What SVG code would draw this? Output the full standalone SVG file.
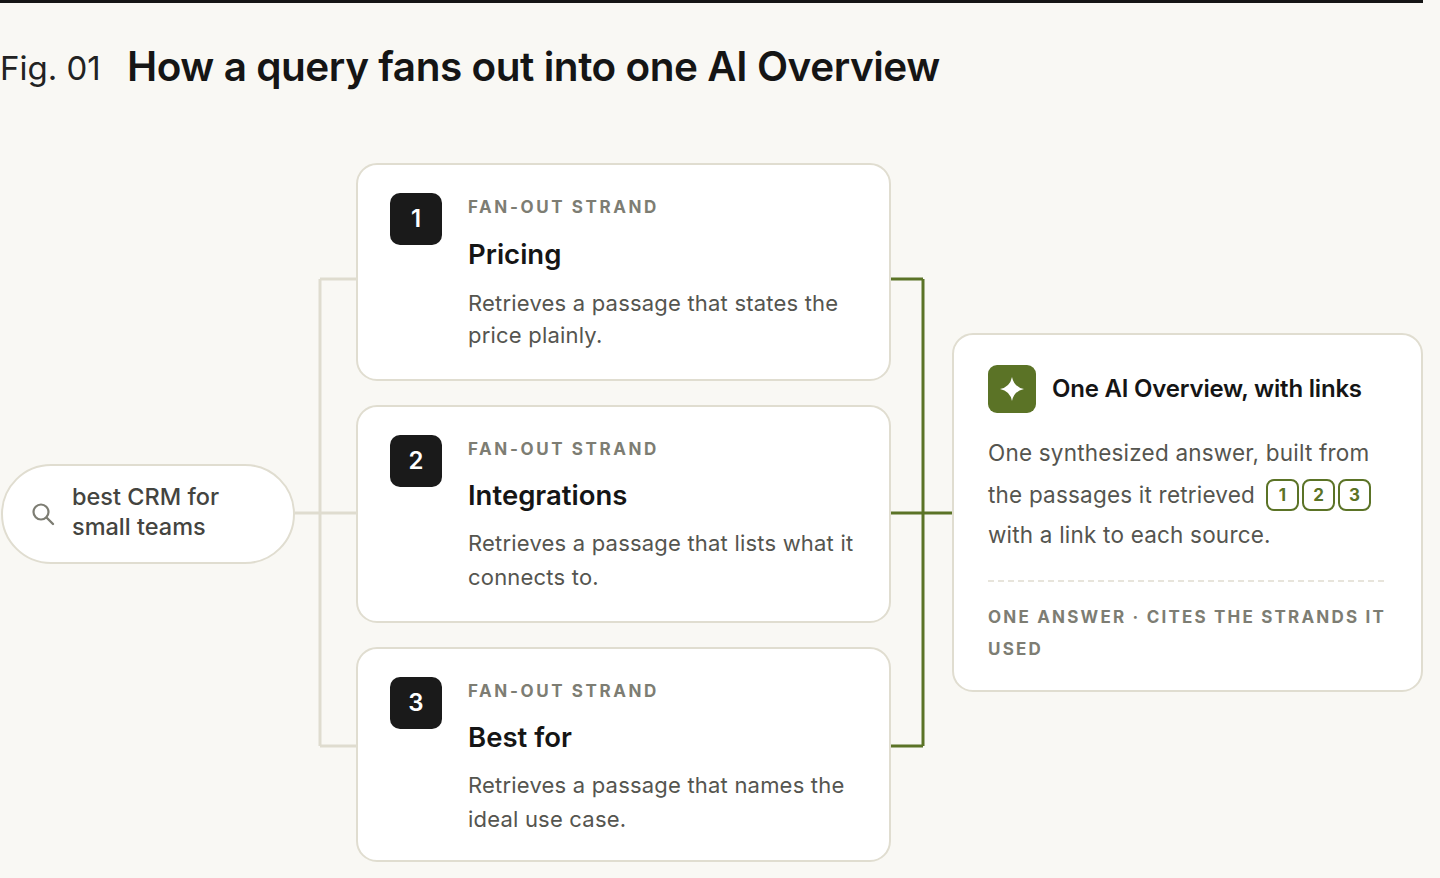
<svg xmlns="http://www.w3.org/2000/svg" width="1440" height="878" viewBox="0 0 1440 878">
<style>
text{font-family:Inter,"Liberation Sans",sans-serif}
.card{fill:#fff;stroke:#e0ddd0;stroke-width:2}
.badge{fill:#1a1a1a}
.bn{fill:#fff;font-size:24px;font-weight:600;text-anchor:middle}
.kick{fill:#7d7d73;font-size:17px;font-weight:700;letter-spacing:2.6px}
.ttl{fill:#151515;font-size:27.5px;font-weight:600}
.body{fill:#55554f;font-size:22px;letter-spacing:0.2px}
.cite{fill:none;stroke:#5b7326;stroke-width:2}
.cn{fill:#5b7326;font-size:17px;font-weight:700;text-anchor:middle}
</style>
<rect width="1440" height="878" fill="#f9f8f4"/>
<line x1="0" y1="1.5" x2="1423" y2="1.5" stroke="#151515" stroke-width="3"/>
<text x="0" y="80" font-size="33" fill="#222">Fig. 01</text>
<text x="127" y="81" font-size="40.5" font-weight="600" fill="#151515" letter-spacing="-0.45">How a query fans out into one AI Overview</text>
<g id="connectors" fill="none">
<path d="M295 513H357M320 279V746M320 279H357M320 746H357" stroke="#dfdccf" stroke-width="3"/>
<path d="M890 279H923M890 513H953M890 746H923M923 279V746" stroke="#5b7326" stroke-width="3"/>
</g>
<g id="query">
<rect x="2" y="465" width="292" height="98" rx="49" class="card"/>
<circle cx="41" cy="512" r="7.5" fill="none" stroke="#7d7d73" stroke-width="2.2"/>
<line x1="46.5" y1="517.5" x2="53" y2="524" stroke="#7d7d73" stroke-width="2.4" stroke-linecap="round"/>
<text x="72" y="505" font-size="23.5" font-weight="500" fill="#44443f">best CRM for</text>
<text x="72" y="535" font-size="23.5" font-weight="500" fill="#44443f">small teams</text>
</g>
<g id="strand1">
<rect x="357" y="164" width="533" height="216" rx="20" class="card"/>
<rect x="390" y="193" width="52" height="52" rx="10" class="badge"/><text x="416" y="227" class="bn">1</text>
<text x="468" y="213" class="kick">FAN-OUT STRAND</text>
<text x="468" y="264" class="ttl">Pricing</text>
<text x="468" y="311" class="body">Retrieves a passage that states the</text>
<text x="468" y="343" class="body">price plainly.</text>
</g>
<g id="strand2">
<rect x="357" y="406" width="533" height="216" rx="20" class="card"/>
<rect x="390" y="435" width="52" height="52" rx="10" class="badge"/><text x="416" y="469" class="bn">2</text>
<text x="468" y="455" class="kick">FAN-OUT STRAND</text>
<text x="468" y="505" class="ttl">Integrations</text>
<text x="468" y="551" class="body">Retrieves a passage that lists what it</text>
<text x="468" y="585" class="body">connects to.</text>
</g>
<g id="strand3">
<rect x="357" y="648" width="533" height="213" rx="20" class="card"/>
<rect x="390" y="677" width="52" height="52" rx="10" class="badge"/><text x="416" y="711" class="bn">3</text>
<text x="468" y="697" class="kick">FAN-OUT STRAND</text>
<text x="468" y="747" class="ttl">Best for</text>
<text x="468" y="793" class="body">Retrieves a passage that names the</text>
<text x="468" y="827" class="body">ideal use case.</text>
</g>
<g id="overview">
<rect x="953" y="334" width="469" height="357" rx="20" class="card"/>
<rect x="988" y="365" width="48" height="48" rx="9" fill="#5b7326"/>
<path d="M1012 377Q1014 387 1024 389Q1014 391 1012 401Q1010 391 1000 389Q1010 387 1012 377Z" fill="#fff"/>
<text x="1052" y="397" font-size="24" font-weight="600" fill="#151515" letter-spacing="-0.2">One AI Overview, with links</text>
<text x="988" y="461" class="body" style="font-size:22.5px">One synthesized answer, built from</text>
<text x="988" y="503" class="body" style="font-size:22.5px">the passages it retrieved</text>
<rect x="1267" y="480" width="31" height="30" rx="7" class="cite"/><text x="1282.5" y="501" class="cn">1</text>
<rect x="1303" y="480" width="31" height="30" rx="7" class="cite"/><text x="1318.5" y="501" class="cn">2</text>
<rect x="1339" y="480" width="31" height="30" rx="7" class="cite"/><text x="1354.5" y="501" class="cn">3</text>
<text x="988" y="543" class="body" style="font-size:22.5px">with a link to each source.</text>
<line x1="988" y1="581" x2="1388" y2="581" stroke="#dfdccf" stroke-width="1.5" stroke-dasharray="6 4"/>
<text x="988" y="623" class="kick" style="letter-spacing:2.2px">ONE ANSWER · CITES THE STRANDS IT</text>
<text x="988" y="655" class="kick" style="letter-spacing:2.2px">USED</text>
</g>
</svg>
